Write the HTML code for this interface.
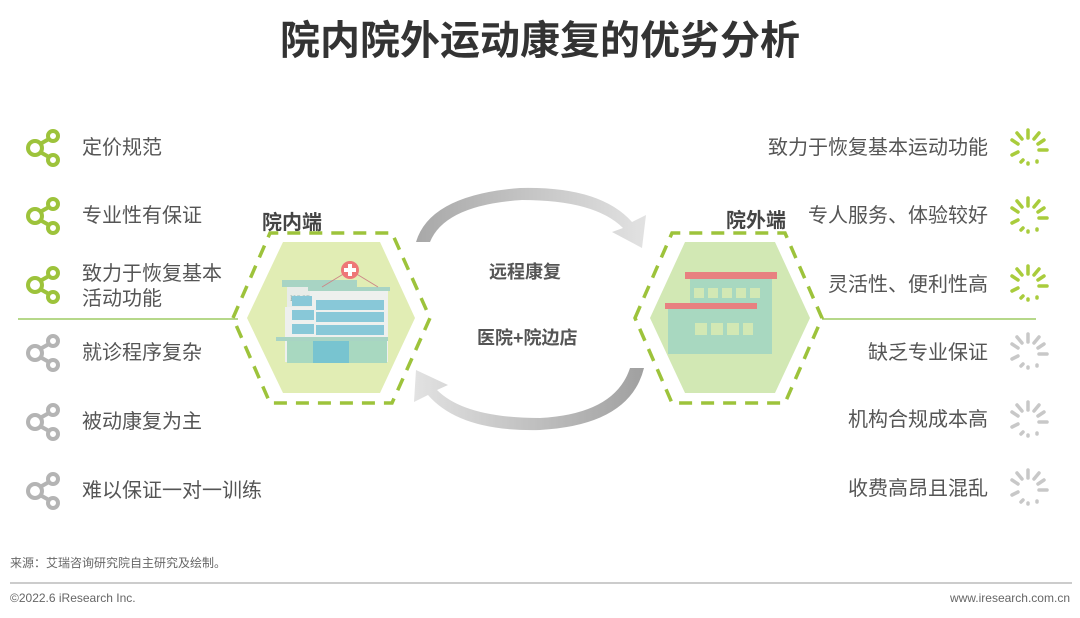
<!DOCTYPE html>
<html><head><meta charset="utf-8"><style>
body{margin:0;width:1080px;height:618px;background:#fff;font-family:"Liberation Sans","Noto Sans CJK SC",sans-serif;position:relative;overflow:hidden}
.t{position:absolute;color:#555;font-size:20px;white-space:nowrap;line-height:25px}
.r{text-align:right;right:92px}
</style></head><body>
<div style="position:absolute;top:14px;left:0;width:1080px;text-align:center;font-size:40px;line-height:54px;font-weight:bold;color:#333">院内院外运动康复的优劣分析</div>

<svg width="1080" height="618" style="position:absolute;left:0;top:0">
<defs>
<g id="sh"><circle cx="-9" cy="0" r="7" fill="none" stroke-width="4"/><circle cx="9" cy="-12" r="5" fill="none" stroke-width="4"/><circle cx="9" cy="12" r="5" fill="none" stroke-width="4"/><line x1="-4" y1="-4" x2="5" y2="-9" stroke-width="4"/><line x1="-4" y1="4" x2="5" y2="9" stroke-width="4"/></g>
<g id="sp" stroke-width="3.5" stroke-linecap="round">
<line x1="0" y1="-10" x2="0" y2="-18"/><line x1="6" y1="-9" x2="11" y2="-15"/><line x1="10" y1="-4" x2="16" y2="-8"/><line x1="11" y1="2" x2="19" y2="2"/>
<line x1="-6" y1="-9" x2="-11" y2="-15"/><line x1="-10" y1="-4" x2="-16" y2="-8"/><line x1="-10" y1="4" x2="-16" y2="7"/>
<line x1="-5" y1="12" x2="-7" y2="14"/><line x1="0" y1="15" x2="0" y2="16"/><line x1="9" y1="13" x2="9" y2="14"/>
</g>
<linearGradient id="g1" x1="0" x2="1"><stop offset="0" stop-color="#a8a8a8"/><stop offset="1" stop-color="#e2e2e2"/></linearGradient>
<linearGradient id="g2" x1="1" x2="0"><stop offset="0" stop-color="#a0a0a0"/><stop offset="1" stop-color="#e2e2e2"/></linearGradient>
</defs>
<g stroke="#9dc33b" fill="#9dc33b">
<use href="#sh" x="44" y="148"/><use href="#sh" x="44" y="216"/><use href="#sh" x="44" y="285"/>
</g>
<g stroke="#b4b4b4" fill="#b4b4b4">
<use href="#sh" x="44" y="353"/><use href="#sh" x="44" y="422"/><use href="#sh" x="44" y="491"/>
</g>
<g stroke="#a9cc3c"><use href="#sp" x="1028" y="148"/><use href="#sp" x="1028" y="216"/><use href="#sp" x="1028" y="284"/></g>
<g stroke="#c8c8c8"><use href="#sp" x="1028" y="352"/><use href="#sp" x="1028" y="420"/><use href="#sp" x="1028" y="488"/></g>
<line x1="18" y1="319" x2="238" y2="319" stroke="#b6d88a" stroke-width="2"/>
<line x1="822" y1="319" x2="1036" y2="319" stroke="#b6d88a" stroke-width="2"/>

<polygon points="247,318 283,242 380,242 415,318 380,393 283,393" fill="#e1edb4"/>
<polygon points="233,318 270,233 392,233 430,318 392,403 270,403" fill="none" stroke="#9dc33b" stroke-width="3.5" stroke-dasharray="13,9"/>
<polygon points="650,318 685,242 775,242 810,318 775,393 685,393" fill="#d2e8b4"/>
<polygon points="635,318 672,233 785,233 822,318 785,403 672,403" fill="none" stroke="#9dc33b" stroke-width="3.5" stroke-dasharray="13,9"/>

<g>
<rect x="282" y="280" width="75" height="7" fill="#a8d4c4"/>
<rect x="287" y="287" width="45" height="20" fill="#e8ece8"/>
<text x="290" y="301" font-size="8" fill="#8aa" font-family="Liberation Serif">HOSPITAL</text>
<rect x="285" y="307" width="48" height="55" fill="#eef0ee"/>
<rect x="310" y="290" width="78" height="72" fill="#eef0ee"/>
<rect x="308" y="287" width="82" height="4" fill="#a8d4c4"/>
<line x1="322" y1="287" x2="350" y2="270" stroke="#c88" stroke-width="1"/><line x1="378" y1="287" x2="350" y2="270" stroke="#c88" stroke-width="1"/>
<circle cx="350" cy="270" r="9" fill="#e77"/><rect x="348" y="264" width="4" height="12" fill="#fff"/><rect x="344" y="268" width="12" height="4" fill="#fff"/>
<g fill="#88c8d8"><rect x="292" y="296" width="20" height="10" /><rect x="292" y="310" width="22" height="10"/><rect x="292" y="324" width="22" height="10"/><rect x="292" y="338" width="22" height="10"/>
<rect x="316" y="300" width="68" height="10"/><rect x="316" y="312" width="68" height="10"/><rect x="316" y="325" width="68" height="10"/></g>
<rect x="276" y="337" width="112" height="4" fill="#a8d4c4"/>
<rect x="287" y="341" width="100" height="22" fill="#a8d8c0"/>
<rect x="313" y="341" width="36" height="22" fill="#78c4d0"/>
</g>
<g>
<rect x="685" y="272" width="92" height="7" fill="#e88080"/>
<rect x="690" y="279" width="82" height="75" fill="#a8d8c0"/>
<rect x="665" y="303" width="92" height="6" fill="#e88080"/>
<rect x="668" y="309" width="86" height="45" fill="#a8d8c0"/>
<g fill="#d2e8b4"><rect x="694" y="288" width="10" height="10"/><rect x="708" y="288" width="10" height="10"/><rect x="722" y="288" width="10" height="10"/><rect x="736" y="288" width="10" height="10"/><rect x="750" y="288" width="10" height="10"/>
<rect x="695" y="323" width="12" height="12"/><rect x="711" y="323" width="12" height="12"/><rect x="727" y="323" width="12" height="12"/><rect x="743" y="323" width="10" height="12"/></g>
</g>

<path d="M416,242 Q430,195 520,188 Q600,186 632,222 L646,215 L642,248 L612,232 L623,228 Q595,200 522,200 Q445,205 430,242 Z" fill="url(#g1)"/>
<path d="M644,368 Q630,425 540,430 Q460,432 428,395 L414,402 L416,370 L448,385 L437,390 Q465,418 540,418 Q615,414 630,368 Z" fill="url(#g2)"/>

<line x1="10" y1="583" x2="1072" y2="583" stroke="#999" stroke-width="1"/>
</svg>

<div class="t" style="left:82px;top:136px">定价规范</div>
<div class="t" style="left:82px;top:204px">专业性有保证</div>
<div class="t" style="left:82px;top:262px">致力于恢复基本<br>活动功能</div>
<div class="t" style="left:82px;top:341px">就诊程序复杂</div>
<div class="t" style="left:82px;top:410px">被动康复为主</div>
<div class="t" style="left:82px;top:479px">难以保证一对一训练</div>

<div class="t r" style="top:136px">致力于恢复基本运动功能</div>
<div class="t r" style="top:204px">专人服务、体验较好</div>
<div class="t r" style="top:273px">灵活性、便利性高</div>
<div class="t r" style="top:341px">缺乏专业保证</div>
<div class="t r" style="top:408px">机构合规成本高</div>
<div class="t r" style="top:477px">收费高昂且混乱</div>

<div class="t" style="left:262px;top:211px;font-size:20px;font-weight:bold;color:#444">院内端</div>
<div class="t" style="left:726px;top:209px;font-size:20px;font-weight:bold;color:#444">院外端</div>
<div class="t" style="left:489px;top:260px;font-size:18px;font-weight:bold;color:#555">远程康复</div>
<div class="t" style="left:477px;top:326px;font-size:18px;font-weight:bold;color:#555">医院+院边店</div>

<div class="t" style="left:10px;top:555px;font-size:12px;color:#666;line-height:16px">来源：艾瑞咨询研究院自主研究及绘制。</div>
<div class="t" style="left:10px;top:590px;font-size:12px;color:#666;line-height:16px">©2022.6 iResearch Inc.</div>
<div class="t" style="right:10px;top:590px;font-size:12px;color:#666;line-height:16px">www.iresearch.com.cn</div>
</body></html>
